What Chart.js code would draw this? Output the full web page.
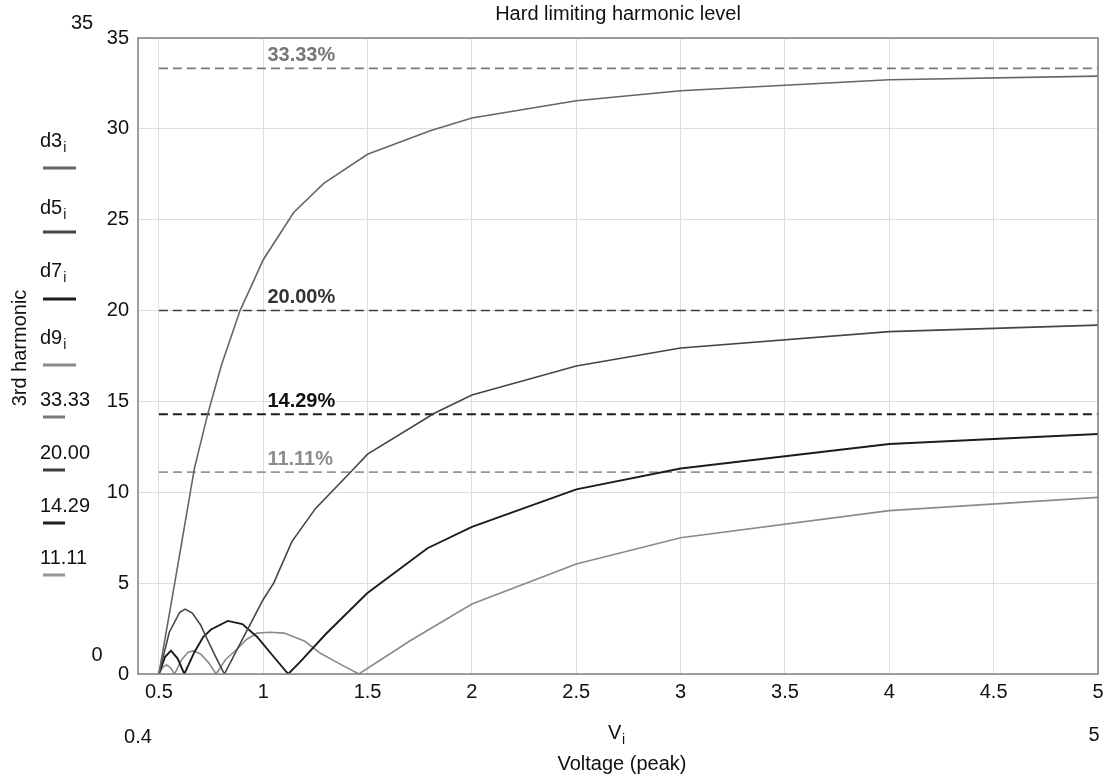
<!DOCTYPE html>
<html>
<head>
<meta charset="utf-8">
<title>Hard limiting harmonic level</title>
<script src="https://cdn.jsdelivr.net/npm/chart.js@4.4.1/dist/chart.umd.min.js"></script>
<style>
  html, body { margin: 0; padding: 0; background: #fff; }
  #wrap { width: 1104px; height: 780px; position: relative; }
</style>
</head>
<body>
<div id="wrap"><canvas id="harmonicChart"></canvas></div>
<script>
// Harmonic level (% of fundamental) against peak input voltage, clipped at 0.5 V
const d3Volts = [0.5, 0.55, 0.6, 0.67, 0.734, 0.8, 0.889, 0.957, 1.0, 1.146, 1.29, 1.5, 1.8, 2.0, 2.5, 3.0, 4.0, 5.0];
const d3Level = [0, 3.3, 6.6, 11.3, 14.3, 17.0, 20.0, 21.7, 22.8, 25.4, 27.0, 28.6, 29.9, 30.6, 31.55, 32.1, 32.7, 32.9];

const d5Volts = [0.5, 0.55, 0.6, 0.626, 0.66, 0.7, 0.726, 0.77, 0.814, 0.9, 1.0, 1.05, 1.138, 1.25, 1.418, 1.5, 1.82, 2.0, 2.5, 3.0, 4.0, 5.0];
const d5Level = [0, 2.3, 3.4, 3.57, 3.35, 2.7, 2.05, 1.0, 0, 1.9, 4.1, 5.0, 7.3, 9.1, 11.1, 12.1, 14.35, 15.35, 16.95, 17.94, 18.84, 19.2];

const d7Volts = [0.5, 0.53, 0.558, 0.59, 0.622, 0.67, 0.713, 0.75, 0.83, 0.9, 0.97, 1.05, 1.12, 1.178, 1.3, 1.498, 1.787, 2.0, 2.5, 3.0, 4.0, 5.0];
const d7Level = [0, 0.95, 1.29, 0.85, 0, 1.2, 2.05, 2.45, 2.92, 2.75, 2.05, 0.95, 0, 0.68, 2.2, 4.44, 6.92, 8.1, 10.16, 11.31, 12.66, 13.21];

const d9Volts = [0.5, 0.52, 0.537, 0.555, 0.575, 0.61, 0.64, 0.665, 0.7, 0.74, 0.774, 0.82, 0.874, 0.92, 0.97, 1.03, 1.1, 1.2, 1.274, 1.36, 1.458, 1.7, 2.0, 2.5, 3.0, 4.0, 5.0];
const d9Level = [0, 0.4, 0.5, 0.35, 0, 0.8, 1.2, 1.27, 1.1, 0.6, 0, 0.8, 1.36, 1.9, 2.25, 2.3, 2.25, 1.8, 1.14, 0.6, 0, 1.8, 3.85, 6.05, 7.5, 8.99, 9.72];

// square-wave limits 1/3, 1/5, 1/7, 1/9
const limitLevels = [33.33, 20.00, 14.29, 11.11];
const limitFrom = 0.5;

const xTicks = [0.5, 1, 1.5, 2, 2.5, 3, 3.5, 4, 4.5, 5];
const yTicks = [0, 5, 10, 15, 20, 25, 30, 35];
const xRange = [0.4, 5];
const yRange = [0, 35];

const curveNames = ['d3', 'd5', 'd7', 'd9'];
const curveColors = ['#666666', '#454545', '#1c1c1c', '#8a8a8a'];
const limitColors = ['#7a7a7a', '#3c3c3c', '#1e1e1e', '#959595'];
const limitTextColors = ['#777777', '#333333', '#111111', '#8c8c8c'];

const FONT = "'Liberation Sans', Arial, sans-serif";

function pairs(xs, ys) {
    return xs.map((x, i) => ({ x: x, y: ys[i] }));
}

const curves = [[d3Volts, d3Level], [d5Volts, d5Level], [d7Volts, d7Level], [d9Volts, d9Level]];

const datasets = curves.map((c, i) => ({
    label: curveNames[i],
    data: pairs(c[0], c[1]),
    borderColor: curveColors[i],
    borderWidth: i === 2 ? 1.9 : 1.6,
    pointRadius: 0,
    tension: 0,
    fill: false
}));

limitLevels.forEach((lvl, i) => {
    datasets.push({
        label: lvl.toFixed(2),
        data: [{ x: limitFrom, y: lvl }, { x: xRange[1], y: lvl }],
        borderColor: limitColors[i],
        borderWidth: i === 2 ? 2 : 1.6,
        borderDash: [9, 5],
        pointRadius: 0,
        fill: false
    });
});

// side key, axis captions and dashed-line labels
const decorations = {
    id: 'decorations',
    afterDraw(chart) {
        const ctx = chart.ctx;
        const area = chart.chartArea;
        const xs = chart.scales.x;
        const ys = chart.scales.y;
        ctx.save();

        // frame round the plot
        ctx.strokeStyle = '#808080';
        ctx.lineWidth = 1.5;
        ctx.strokeRect(area.left, area.top, area.right - area.left, area.bottom - area.top);

        ctx.fillStyle = '#111';
        ctx.textBaseline = 'middle';

        // title
        ctx.font = '20px ' + FONT;
        ctx.textAlign = 'center';
        ctx.fillText('Hard limiting harmonic level', (area.left + area.right) / 2, 14);

        // axis end values
        ctx.fillText(String(yRange[1]), 82, ys.getPixelForValue(yRange[1]) - 15);
        ctx.fillText(String(yRange[0]), 97, ys.getPixelForValue(yRange[0]) - 19);
        ctx.fillText(String(xRange[0]), xs.getPixelForValue(xRange[0]), 737);
        ctx.fillText(String(xRange[1]), xs.getPixelForValue(xRange[1]) - 4, 735);

        // V_i and x caption
        const cx = (area.left + area.right) / 2;
        ctx.textAlign = 'left';
        ctx.fillText('V', cx - 10, 733);
        ctx.font = '14px ' + FONT;
        ctx.fillText('i', cx + 4, 740);
        ctx.font = '20px ' + FONT;
        ctx.textAlign = 'center';
        ctx.fillText('Voltage (peak)', cx + 4, 764);

        // y caption
        ctx.save();
        ctx.translate(20, 348);
        ctx.rotate(-Math.PI / 2);
        ctx.fillText('3rd harmonic', 0, 0);
        ctx.restore();

        // key: curve names then limit values
        ctx.textAlign = 'left';
        const keyText = [141, 208, 271, 338];
        const keyLine = [168, 232, 299, 365];
        curveNames.forEach((name, i) => {
            ctx.fillStyle = '#111';
            ctx.font = '20px ' + FONT;
            ctx.fillText(name, 40, keyText[i]);
            const w = ctx.measureText(name).width;
            ctx.font = '14px ' + FONT;
            ctx.fillText('i', 40 + w + 1, keyText[i] + 7);
            ctx.strokeStyle = curveColors[i];
            ctx.lineWidth = 3;
            ctx.beginPath();
            ctx.moveTo(43, keyLine[i]);
            ctx.lineTo(76, keyLine[i]);
            ctx.stroke();
        });
        const limText = [400, 453, 506, 558];
        const limLine = [417, 470, 523, 575];
        limitLevels.forEach((lvl, i) => {
            ctx.fillStyle = '#111';
            ctx.font = '20px ' + FONT;
            ctx.fillText(lvl.toFixed(2), 40, limText[i]);
            ctx.strokeStyle = limitColors[i];
            ctx.lineWidth = 3;
            ctx.beginPath();
            ctx.moveTo(43, limLine[i]);
            ctx.lineTo(65, limLine[i]);
            ctx.stroke();
        });

        // labels over the dashed limit lines
        ctx.font = 'bold 20px ' + FONT;
        limitLevels.forEach((lvl, i) => {
            ctx.fillStyle = limitTextColors[i];
            ctx.fillText(lvl.toFixed(2) + '%', xs.getPixelForValue(1.02), ys.getPixelForValue(lvl) - 13);
        });

        ctx.restore();
    }
};

const ctx = document.getElementById('harmonicChart').getContext('2d');

new Chart(ctx, {
    type: 'line',
    data: { datasets: datasets },
    options: {
        responsive: true,
        maintainAspectRatio: false,
        animation: false,
        events: [],
        layout: { padding: { left: 0, right: 6, top: 38, bottom: 0 } },
        plugins: {
            legend: { display: false },
            tooltip: { enabled: false },
            title: { display: false }
        },
        scales: {
            x: {
                type: 'linear',
                min: xRange[0],
                max: xRange[1],
                afterBuildTicks: s => { s.ticks = xTicks.map(v => ({ value: v })); },
                afterFit: s => { s.height = 106; s.paddingLeft = 0; s.paddingRight = 0; },
                grid: { color: '#dedede', lineWidth: 1, drawTicks: false },
                border: { display: false },
                ticks: {
                    padding: 6,
                    color: '#111',
                    font: { family: FONT, size: 20 },
                    maxRotation: 0,
                    callback: v => String(v)
                }
            },
            y: {
                min: yRange[0],
                max: yRange[1],
                afterBuildTicks: s => { s.ticks = yTicks.map(v => ({ value: v })); },
                afterFit: s => { s.width = 138; s.paddingTop = 0; s.paddingBottom = 0; },
                grid: { color: '#dedede', lineWidth: 1, drawTicks: false },
                border: { display: false },
                ticks: {
                    padding: 9,
                    color: '#111',
                    font: { family: FONT, size: 20 },
                    callback: v => String(v)
                }
            }
        }
    },
    plugins: [decorations]
});
</script>
</body>
</html>
